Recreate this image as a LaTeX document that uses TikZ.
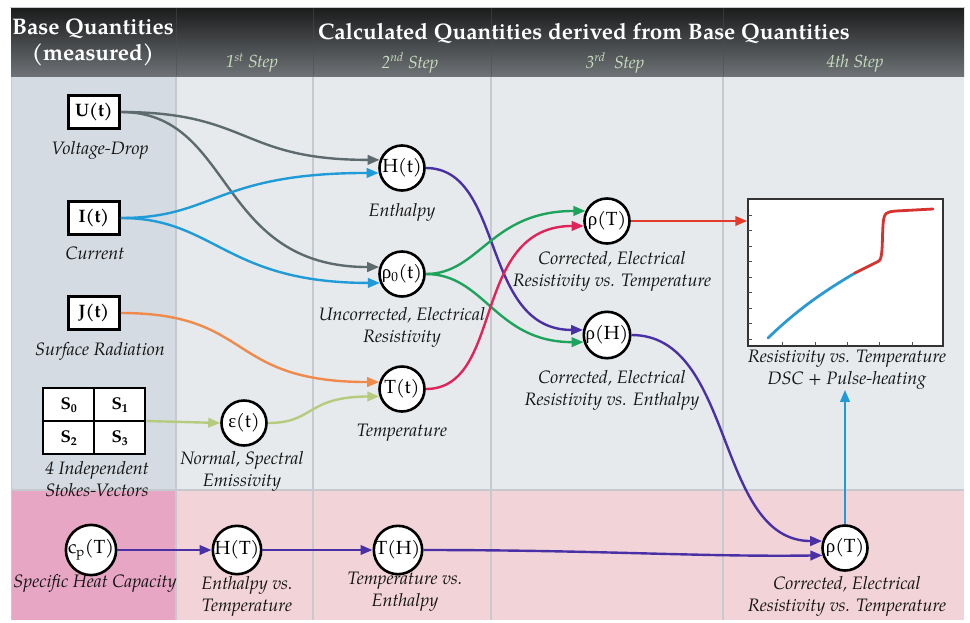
\documentclass[tikz,border=0pt]{standalone}
\usepackage{fontspec}
\setmainfont{texgyrepagella}[Extension=.otf, UprightFont=*-regular, BoldFont=*-bold, ItalicFont=*-italic, BoldItalicFont=*-bolditalic]
\newfontfamily\grk{Liberation Serif}
\usetikzlibrary{arrows.meta,calc}
\definecolor{lefttop}{HTML}{D5DBE3}
\definecolor{coltop}{HTML}{E7EAED}
\definecolor{leftbot}{HTML}{E7A7C4}
\definecolor{colbot}{HTML}{F2D4D8}
\definecolor{gridc}{HTML}{C6CACE}
\definecolor{hdrtop}{HTML}{1B1C1C}
\definecolor{hdrbot}{HTML}{6E7276}
\definecolor{steptxt}{HTML}{C8DCC0}
\definecolor{cgray}{HTML}{5D6A6E}
\definecolor{cblue}{HTML}{1F9BD7}
\definecolor{corange}{HTML}{F08A4B}
\definecolor{clgreen}{HTML}{B7CB7E}
\definecolor{cpurple}{HTML}{4A30A5}
\definecolor{cgreen}{HTML}{1EA35C}
\definecolor{ccrimson}{HTML}{E0245A}
\definecolor{cred}{HTML}{E23B2B}
\definecolor{curveblue}{HTML}{2A9AD0}
\definecolor{curvered}{HTML}{D8322E}
\tikzset{
 qbox/.style={draw=black, line width=2.6pt, fill=white, minimum width=51pt, minimum height=33pt, inner sep=0pt, font=\fontsize{18}{20}\selectfont\bfseries},
 qcirc/.style={circle, draw=black, line width=2.6pt, fill=white, minimum size=45pt, inner sep=0pt, font=\fontsize{19}{21}\selectfont},
 lbl/.style={align=center, font=\fontsize{18}{22}\selectfont\itshape, text=black!92, inner sep=0pt},
 conn/.style={line width=2.4pt, -{Triangle[length=12pt,width=9.5pt]}},
 steplbl/.style={font=\fontsize{17.5}{19}\selectfont\itshape, text=steptxt, inner sep=0pt},
 hdr/.style={font=\fontsize{22.5}{25}\selectfont\bfseries, text=white, align=center, inner sep=0pt},
 cellt/.style={font=\fontsize{17}{19}\selectfont\bfseries, inner sep=0pt}
}
\begin{document}
\begin{tikzpicture}[x=1pt,y=-1pt]
\useasboundingbox (0,0) rectangle (970,622);
\fill[white] (0,0) rectangle (970,622);
% panels
\fill[lefttop] (11,76) rectangle (176,490);
\fill[coltop] (176,76) rectangle (964,490);
\fill[leftbot] (11,490) rectangle (176,620);
\fill[colbot] (176,490) rectangle (964,620);
\foreach \xx in {176,313,491,723} \draw[gridc, line width=1.5pt] (\xx,76) -- (\xx,620);
\draw[gridc, line width=1.5pt] (11,490) -- (964,490);
\draw[gridc, line width=1pt] (11,76) -- (11,620);
% header
\shade[top color=hdrtop, bottom color=hdrbot] (11,8) rectangle (964,76);
\draw[gridc, line width=1pt] (10,7) -- (965,7);
\foreach \xx in {176,313,491,723} \draw[black!70, line width=1pt, opacity=0.5] (\xx,8) -- (\xx,76);
\node[hdr] (h1) at (93,29) {Base Quantities};
\node[hdr] (h2) at (93,55) {(measured)};
\node[hdr] (h3) at (584,33) {Calculated Quantities derived from Base Quantities};
\node[steplbl] (st1) at (252,63) {1\textsuperscript{st} Step};
\node[steplbl] (st2) at (410,63) {2\textsuperscript{nd} Step};
\node[steplbl] (st3) at (615,63) {3\textsuperscript{rd}\ \ Step};
\node[steplbl] (st4) at (855,63) {4th Step};
% base quantities
\node[qbox] (U) at (94,112) {U(t)};
\node[lbl] (Ul) at (100,150) {Voltage-Drop};
\node[qbox] (I) at (94,218) {I(t)};
\node[lbl] (Il) at (95,253) {Current};
\node[qbox] (J) at (94,313) {J(t)};
\node[lbl] (Jl) at (100,351) {Surface Radiation};
\node[draw=black, line width=2.6pt, fill=white, minimum width=102pt, minimum height=66pt, inner sep=0pt] (S) at (94,421) {};
\draw[line width=2.6pt] (S.north) -- (S.south);
\draw[line width=2.6pt] (S.west) -- (S.east);
\node[cellt] (s0) at (69,405) {S\textsubscript{0}};
\node[cellt] (s1) at (120,405) {S\textsubscript{1}};
\node[cellt] (s2) at (69,438) {S\textsubscript{2}};
\node[cellt] (s3) at (120,438) {S\textsubscript{3}};
\node[lbl] (Sl) at (97,479) {4 Independent\\Stokes-Vectors};
% step 1 / 2
\node[qcirc] (eps) at (244,423) {{\grk ε}(t)};
\node[lbl] (epsl) at (242,471.5) {Normal, Spectral\\Emissivity};
\node[qcirc] (Ht) at (402,168) {H(t)};
\node[lbl] (Htl) at (402,212) {Enthalpy};
\node[qcirc] (r0) at (402,274) {{\grk ρ}\textsubscript{0}(t)};
\node[lbl] (r0l) at (402,327) {Uncorrected, Electrical\\Resistivity};
\node[qcirc] (Tt) at (402,389) {T(t)};
\node[lbl] (Ttl) at (402,433) {Temperature};
% step 3
\node[qcirc] (rT) at (607,221) {{\grk ρ}(T)};
\node[lbl] (rTl) at (612,271) {Corrected, Electrical\\Resistivity vs. Temperature};
\node[qcirc] (rH) at (607,335) {{\grk ρ}(H)};
\node[lbl] (rHl) at (612,390) {Corrected, Electrical\\Resistivity vs. Enthalpy};
% chart
\node[draw=black!80, line width=1.5pt, fill=white, minimum width=195pt, minimum height=147pt, inner sep=0pt] (chart) at (845.5,272.5) {};
\foreach \i in {0,...,8} \draw[black!70, line width=0.8pt] (748,215+15.5*\i) -- ++(4,0);
\foreach \xx in {782,815,847,879,912} \draw[black!70, line width=0.8pt] (\xx,346) -- ++(0,-4);
\draw[curveblue, line width=2.8pt, line cap=round] (768,338) .. controls (800,307) and (828,289) .. (855,273);
\draw[curvered, line width=2.8pt, line cap=round, line join=round] (855,273) -- (879,261) .. controls (883,258) and (882,240) .. (883,225) .. controls (884,212) and (886,212) .. (896,211) -- (933,209);
\node[lbl] (chartl) at (847,370) {Resistivity vs. Temperature\\DSC + Pulse-heating};
% bottom row
\node[qcirc] (cp) at (91,550) {c\textsubscript{p}(T)};
\node[lbl] (cpl) at (95,583) {Specific Heat Capacity};
\node[qcirc] (HT) at (237,550) {H(T)};
\node[lbl] (HTl) at (247,596) {Enthalpy vs.\\Temperature};
\node[qcirc] (TH) at (398,550) {T(H)};
\node[lbl] (THl) at (405,591.5) {Temperature vs.\\Enthalpy};
\node[qcirc] (rTb) at (845,548) {{\grk ρ}(T)};
\node[lbl] (rTbl) at (847,596) {Corrected, Electrical\\Resistivity vs. Temperature};
% connectors
\draw[conn, cgray] (U.east) .. controls (250,112) and (240,160) .. (Ht.160);
\draw[conn, cgray] (U.east) .. controls (235,112) and (215,267) .. (r0.163);
\draw[conn, cblue] (I.east) .. controls (215,218) and (215,173) .. (Ht.192);
\draw[conn, cblue] (I.east) .. controls (215,218) and (225,283) .. (r0.202);
\draw[conn, corange] (J.east) .. controls (255,313) and (225,382) .. (Tt.163);
\draw[conn, clgreen] (S.east) -- (eps.west);
\draw[conn, clgreen] (eps.east) .. controls (315,423) and (305,397) .. (Tt.198);
\draw[conn, cpurple] (Ht.east) .. controls (505,168) and (480,330) .. (rH.168);
\draw[conn, cgreen] (r0.east) .. controls (480,274) and (490,211) .. (rT.155);
\draw[conn, cgreen] (r0.east) .. controls (485,274) and (495,342) .. (rH.197);
\draw[conn, ccrimson] (Tt.east) .. controls (505,389) and (470,226) .. (rT.192);
\draw[conn, cred] (rT.east) -- (rT.east -| chart.west);
\draw[conn, cpurple] (rH.east) .. controls (735,335) and (715,541) .. (rTb.163);
\draw[conn, cpurple] (cp.east) -- (HT.west);
\draw[conn, cpurple] (HT.east) -- (TH.west);
\draw[conn, cpurple] (TH.east) .. controls (600,550) and (700,557) .. (rTb.198);
\draw[conn, cblue] (rTb.north) -- (rTb.north |- chartl.south);
\end{tikzpicture}
\end{document}
